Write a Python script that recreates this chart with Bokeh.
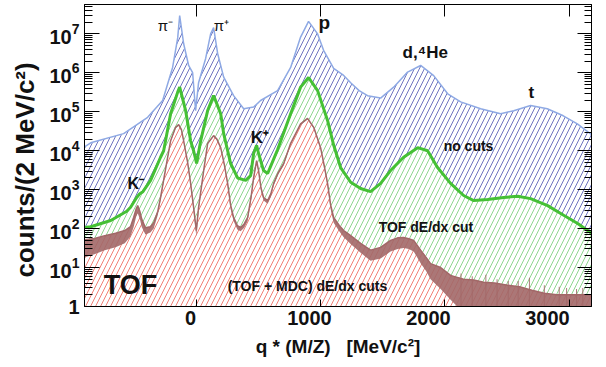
from bokeh.plotting import figure
from bokeh.models import (Range1d, LinearAxis, LogAxis, FixedTicker,
                          LogTickFormatter, BasicTickFormatter, Label)
from bokeh.embed import file_html
from bokeh.resources import INLINE

# q*(M/Z) in MeV/c^2, counts per 2 MeV/c^2

# no cuts
nocut_q = [-900, -850, -585, -392, -271, -191, -150, -134, -102, -62, -30, -6, 18,
           75, 115, 139, 171, 220, 300, 381, 461, 517, 654, 759, 839, 903, 976,
           1024, 1105, 1180, 1242, 1310, 1378, 1483, 1588, 1700, 1805, 1910, 2023,
           2127, 2288, 2449, 2554, 2690, 2824, 2953, 3066, 3154, 3180]
nocut_counts = [1.26e4, 1.6e4, 2.75e4, 7.2e4, 1.95e5, 1.38e6, 7.9e6, 2.95e7, 5.6e6,
                1.55e6, 1.02e6, 1.07e5, 5.6e5, 2.35e6, 1.0e7, 1.45e7, 3.2e6, 7.8e5,
                2.6e5, 1.2e5, 1.32e5, 1.95e5, 3.5e5, 1.38e6, 8.3e6, 2.1e7, 1.0e7,
                3.8e6, 1.3e6, 8.9e5, 5.6e5, 3.5e5, 2.6e5, 2.25e5, 4.3e5, 1.05e6,
                1.55e6, 8.5e5, 2.9e5, 1.8e5, 1.2e5, 8.9e4, 1.07e5, 1.45e5, 1.2e5,
                7.9e4, 4.9e4, 3.0e4, 2.6e4]

# TOF dE/dx cut
tof_q = [-900, -850, -689, -560, -529, -480, -455, -430, -368, -288, -263, -207,
         -150, -134, -86, -46, -22, 2, 35, 91, 139, 196, 220, 276, 332, 397, 437,
         461, 485, 501, 541, 574, 654, 759, 839, 903, 976, 1056, 1105, 1161, 1242,
         1322, 1402, 1483, 1563, 1668, 1781, 1861, 1941, 2046, 2151, 2232, 2344,
         2473, 2586, 2690, 2827, 2956, 3069, 3180]
tof_counts = [107, 112, 162, 280, 355, 630, 790, 890, 1740, 6800, 1.0e4, 8.9e4,
              3.2e5, 4.3e5, 1.07e5, 1.8e4, 1.0e4, 4700, 1.8e4, 1.07e5, 2.6e5, 8.9e4,
              2.75e4, 4700, 2000, 1740, 2300, 8500, 1.38e4, 8500, 3100, 2600,
              1.07e4, 8.9e4, 4.3e5, 7.6e5, 3.5e5, 6.0e4, 1.4e4, 3700, 1550, 1070,
              890, 1450, 3100, 6800, 1.2e4, 1.0e4, 3700, 1450, 710, 525, 560, 630,
              680, 590, 390, 220, 135, 76]

# (TOF + MDC) dE/dx cuts: upper and lower edge of the fluctuating band
mdc_q = [-900, -820, -737, -650, -576, -530, -504, -485, -472, -455, -440, -410,
         -370, -343, -310, -288, -260, -231, -207, -167, -142, -120, -102, -70,
         -46, -22, 0, 18, 59, 91, 139, 165, 196, 225, 252, 276, 300, 330, 356,
         385, 413, 440, 461, 485, 501, 520, 541, 574, 600, 622, 660, 703, 759,
         839, 895, 945, 1000, 1030, 1056, 1081, 1105, 1150, 1186, 1242, 1322,
         1402, 1483, 1563, 1620, 1668, 1710, 1749, 1805, 1850, 1885, 1966, 2046,
         2100, 2151, 2232, 2312, 2400, 2506, 2600, 2700, 2800, 2900, 3000, 3100,
         3180]
mdc_hi = [52, 56, 66, 76, 89, 112, 195, 316, 390, 280, 178, 105, 112, 141, 280,
          630, 2000, 6800, 1.8e4, 4.0e4, 4.7e4, 3.5e4, 1.8e4, 5000, 1450, 350, 89,
          350, 3100, 1.55e4, 2.45e4, 2.0e4, 1.2e4, 4470, 1450, 400, 195, 120, 107,
          132, 195, 630, 2040, 5600, 3100, 1120, 630, 525, 790, 1450, 2800, 4700,
          1.55e4, 4.9e4, 6.8e4, 4.0e4, 1.2e4, 4000, 1450, 400, 195, 120, 89, 66,
          42, 28, 33, 50, 58, 59, 55, 50, 28, 18, 12.6, 10, 6.3, 5.6, 5.0, 4.8,
          4.2, 4.0, 3.5, 3.2, 2.6, 2.2, 2.0, 2.0, 2.0, 2.0]
mdc_lo = [18, 22, 28, 33, 42, 63, 112, 200, 250, 178, 112, 71, 79, 100, 224,
          525, 1780, 6300, 1.7e4, 3.7e4, 4.4e4, 3.2e4, 1.66e4, 4470, 1260, 280, 63,
          280, 2800, 1.45e4, 2.3e4, 1.86e4, 1.12e4, 4000, 1260, 316, 158, 95, 85,
          105, 158, 525, 1780, 5000, 2750, 955, 525, 437, 660, 1260, 2500, 4170,
          1.45e4, 4.6e4, 6.3e4, 3.7e4, 1.1e4, 3550, 1260, 316, 141, 85, 60, 40,
          24, 15, 17, 26, 30, 32, 30, 26, 13, 8, 5, 2.8, 1.5, 1, 1, 1, 1, 1,
          1, 1, 1, 1, 1, 1, 1, 1]

# isolated high bins in the sparse tail
tail_q = [2130, 2220, 2330, 2420, 2510, 2590, 2680, 2800, 2920, 2980, 3060, 3110]
tail_counts = [7, 6, 6.5, 5, 4.5, 4.5, 5.5, 3.5, 3.2, 3, 2.8, 3]

# annotations
label_text = ["π⁻", "π⁺", "p", "d,⁴He", "t", "no cuts", "K⁺", "K⁻",
              "TOF dE/dx cut", "(TOF + MDC) dE/dx cuts", "TOF"]
label_q = [-311, 141, 984, 1660, 2673, 1990, 437, -553, 1467, 252, -746]
label_counts = [1.66e7, 1.66e7, 2.0e7, 3.3e6, 3.2e5, 1.29e4, 2.2e4, 1450, 113, 3.3, 3.5]
label_size = ["15px", "15px", "19px", "17px", "17px", "14px", "17px", "16px",
              "14px", "14px", "27px"]
label_style = ["normal", "normal", "bold", "bold", "bold", "bold", "bold", "bold",
               "bold", "bold", "bold"]

decades = [1, 10, 100, 1e3, 1e4, 1e5, 1e6, 1e7]
minor_decades = [k * d for d in decades for k in range(2, 10)]
x_ticks = [0, 1000, 2000, 3000]

FONT = "Liberation Sans"
INK = "#111111"
HATCH = 10

p = figure(width=606, height=367, x_range=Range1d(-900, 3180),
           y_range=Range1d(1, 5.7e7), y_axis_type="log",
           output_backend="svg", toolbar_location=None,
           min_border_left=84, min_border_right=15, min_border_top=4,
           min_border_bottom=61)
# the tick labels of the q axis sit on a slightly compressed scale
p.extra_x_ranges = {"qlabels": Range1d(-891, 3370)}
p.xgrid.visible = False
p.ygrid.visible = False
p.outline_line_color = "black"
p.outline_line_width = 1
p.background_fill_color = "white"
p.border_fill_color = "white"

# filled histograms, widest selection first
p.varea(x=nocut_q, y1=1, y2=nocut_counts, fill_color="white",
        hatch_pattern="/", hatch_color="#6f74bf", hatch_scale=HATCH, hatch_weight=1)
p.line(nocut_q, nocut_counts, line_color="#8ea9e4", line_width=1.5)

p.varea(x=tof_q, y1=1, y2=tof_counts, fill_color="white",
        hatch_pattern="/", hatch_color="#8fd68f", hatch_scale=HATCH, hatch_weight=1)
p.line(tof_q, tof_counts, line_color="#45c035", line_width=3)

p.varea(x=mdc_q, y1=1, y2=mdc_hi, fill_color="white",
        hatch_pattern="/", hatch_color="#f27f76", hatch_scale=HATCH, hatch_weight=1)
p.varea(x=mdc_q, y1=mdc_lo, y2=mdc_hi, fill_color="#a26868", fill_alpha=0.9)
p.line(mdc_q, mdc_hi, line_color="#a26868", line_width=1.5)
p.vbar(x=tail_q, top=tail_counts, bottom=1, width=7, fill_color="#a26868",
       line_color=None)

for t, xq, yc, fs, st in zip(label_text, label_q, label_counts, label_size, label_style):
    p.add_layout(Label(x=xq, y=yc, text=t, text_font=FONT, text_font_size=fs,
                       text_font_style=st, text_color=INK,
                       text_baseline="alphabetic", text_align="left"))

# bottom axis: tick marks only
xa = p.xaxis[0]
xa.ticker = FixedTicker(ticks=x_ticks, minor_ticks=[])
xa.major_tick_in = 7
xa.major_tick_out = 0
xa.minor_tick_in = 0
xa.minor_tick_out = 0
xa.major_label_standoff = 0
xa.major_label_text_font_size = "1px"
xa.major_label_text_alpha = 0

# bottom axis: tick labels and title
xl = LinearAxis(x_range_name="qlabels",
                ticker=FixedTicker(ticks=x_ticks, minor_ticks=[]),
                major_tick_in=0, major_tick_out=0, minor_tick_in=0,
                minor_tick_out=0, axis_line_color=None,
                major_label_standoff=4,
                major_label_text_font=FONT, major_label_text_font_style="bold",
                major_label_text_font_size="20px", major_label_text_color=INK,
                axis_label="q * (M/Z) \u00a0 [MeV/c²]",
                axis_label_text_font=FONT, axis_label_text_font_style="bold",
                axis_label_text_font_size="19px", axis_label_text_color=INK,
                axis_label_standoff=8)
p.add_layout(xl, "below")

# left axis
ya = p.yaxis[0]
ya.ticker = FixedTicker(ticks=decades, minor_ticks=minor_decades)
ya.formatter = LogTickFormatter(min_exponent=1)
ya.major_tick_in = 15
ya.major_tick_out = 0
ya.minor_tick_in = 8
ya.minor_tick_out = 0
ya.major_label_standoff = 5
ya.major_label_text_font = FONT
ya.major_label_text_font_style = "bold"
ya.major_label_text_font_size = "20px"
ya.major_label_text_color = INK
ya.axis_label = "counts/(2 MeV/c²)\u00a0\u00a0\u00a0\u00a0"
ya.axis_label_text_font = FONT
ya.axis_label_text_font_style = "bold"
ya.axis_label_text_font_size = "26px"
ya.axis_label_text_color = INK
ya.axis_label_standoff = 6

# mirrored tick marks on the top and right edges
top = LinearAxis(ticker=FixedTicker(ticks=x_ticks, minor_ticks=[]),
                 major_tick_in=12, major_tick_out=0, minor_tick_in=0,
                 minor_tick_out=0, major_label_text_font_size="1px",
                 major_label_text_alpha=0, major_label_standoff=0)
p.add_layout(top, "above")
right = LogAxis(ticker=FixedTicker(ticks=decades, minor_ticks=minor_decades),
                formatter=BasicTickFormatter(),
                major_tick_in=14, major_tick_out=0, minor_tick_in=7,
                minor_tick_out=0, major_label_text_font_size="1px",
                major_label_text_alpha=0, major_label_standoff=0)
p.add_layout(right, "right")

open("out.html", "w").write(file_html(p, INLINE))
